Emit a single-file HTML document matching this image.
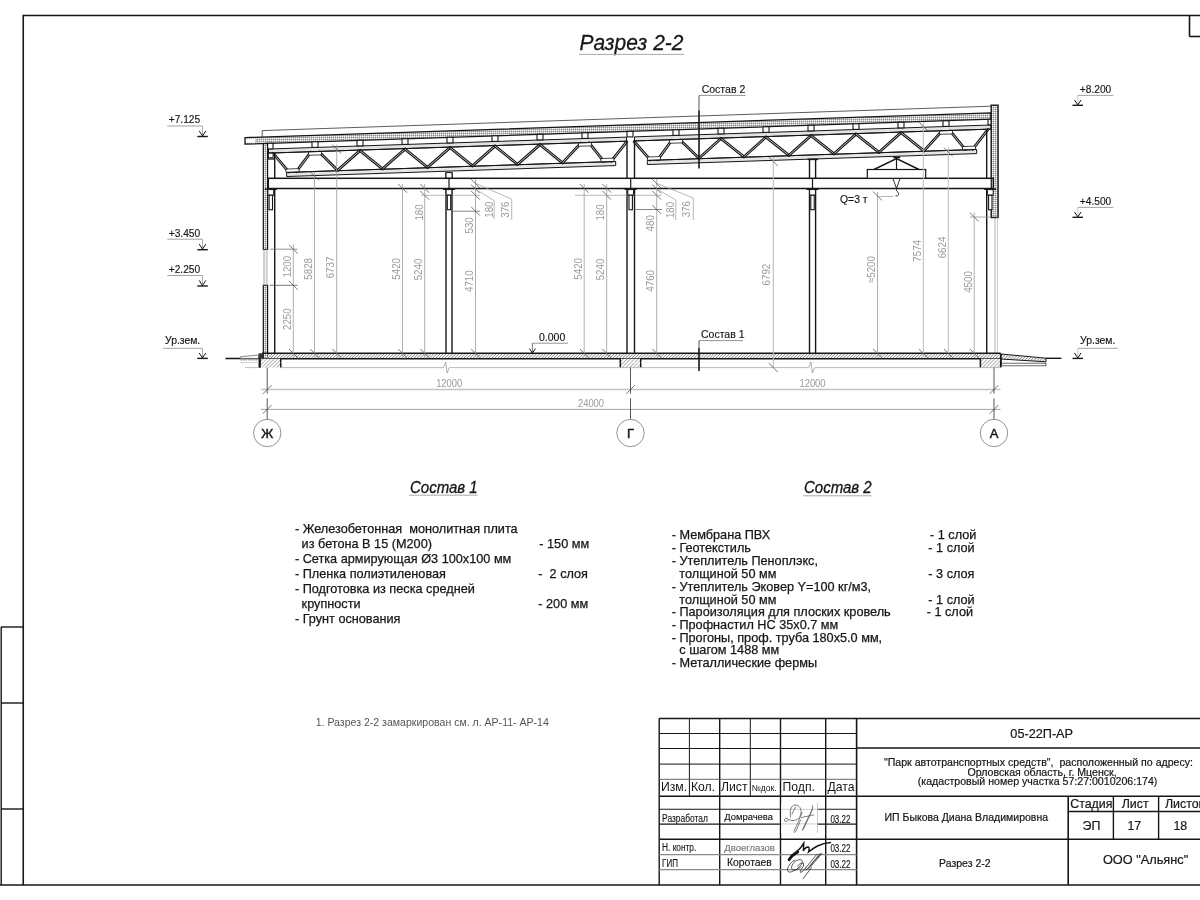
<!DOCTYPE html><html><head><meta charset="utf-8"><style>
html,body{margin:0;padding:0;background:#fff;width:1200px;height:900px;overflow:hidden}
svg{display:block;filter:grayscale(1)}
text{font-family:"Liberation Sans",sans-serif}
.dim{font-family:"Liberation Sans",sans-serif}
</style></head><body>
<svg width="1200" height="900" viewBox="0 0 1200 900">
<defs>
<pattern id="dots" width="2" height="2" patternUnits="userSpaceOnUse"><rect width="2" height="2" fill="#c4c4c4"/><rect width="1" height="1" fill="#fbfbfb"/><rect x="1" y="1" width="1" height="1" fill="#909090"/></pattern>
<pattern id="hatch" width="2.2" height="2.2" patternUnits="userSpaceOnUse" patternTransform="rotate(45)"><rect width="2.2" height="2.2" fill="#fff"/><rect width="0.8" height="2.2" fill="#8a8a8a"/></pattern>
<pattern id="hatch2" width="2.6" height="2.6" patternUnits="userSpaceOnUse" patternTransform="rotate(45)"><rect width="2.6" height="2.6" fill="#fff"/><rect width="0.7" height="2.6" fill="#999"/></pattern>
</defs>
<rect width="1200" height="900" fill="#fff"/>

<line x1="23.25" y1="15.50" x2="1200.00" y2="15.50" stroke="#161616" stroke-width="1.6" />
<line x1="23.25" y1="14.70" x2="23.25" y2="885.00" stroke="#161616" stroke-width="1.6" />
<line x1="0.00" y1="885.00" x2="1200.00" y2="885.00" stroke="#161616" stroke-width="1.6" />
<line x1="1.20" y1="627.00" x2="1.20" y2="885.00" stroke="#161616" stroke-width="1.4" />
<line x1="1.00" y1="627.00" x2="23.00" y2="627.00" stroke="#161616" stroke-width="1.4" />
<line x1="1.00" y1="703.00" x2="23.00" y2="703.00" stroke="#161616" stroke-width="1.4" />
<line x1="1.00" y1="809.00" x2="23.00" y2="809.00" stroke="#161616" stroke-width="1.4" />
<line x1="1189.50" y1="15.50" x2="1189.50" y2="36.50" stroke="#161616" stroke-width="1.6" />
<line x1="1189.50" y1="36.50" x2="1200.00" y2="36.50" stroke="#161616" stroke-width="1.6" />
<text transform="translate(579.6,49.7) scale(0.92,1)" font-size="22.8" fill="#161616" stroke="#161616" stroke-width="0.3" style="font-style:italic">Разрез 2-2</text>
<line x1="579.00" y1="54.40" x2="684.00" y2="54.40" stroke="#aaa" stroke-width="1.0" />
<text x="168.70" y="123.40" font-size="10.2" fill="#161616" text-anchor="start" stroke="#161616" stroke-width="0.15"  style="">+7.125</text>
<line x1="167.30" y1="126.00" x2="202.50" y2="126.00" stroke="#999" stroke-width="0.9" />
<line x1="202.50" y1="126.00" x2="202.50" y2="136.50" stroke="#999" stroke-width="0.8" />
<polyline points="199.20,130.90 202.50,136.00 205.80,130.90" fill="none" stroke="#161616" stroke-width="1.0" />
<line x1="197.30" y1="136.50" x2="207.80" y2="136.50" stroke="#161616" stroke-width="1.4" />
<text x="168.70" y="236.60" font-size="10.2" fill="#161616" text-anchor="start" stroke="#161616" stroke-width="0.15"  style="">+3.450</text>
<line x1="167.30" y1="239.20" x2="202.50" y2="239.20" stroke="#999" stroke-width="0.9" />
<line x1="202.50" y1="239.20" x2="202.50" y2="249.70" stroke="#999" stroke-width="0.8" />
<polyline points="199.20,244.10 202.50,249.20 205.80,244.10" fill="none" stroke="#161616" stroke-width="1.0" />
<line x1="197.30" y1="249.70" x2="207.80" y2="249.70" stroke="#161616" stroke-width="1.4" />
<text x="168.70" y="272.90" font-size="10.2" fill="#161616" text-anchor="start" stroke="#161616" stroke-width="0.15"  style="">+2.250</text>
<line x1="167.30" y1="275.50" x2="202.50" y2="275.50" stroke="#999" stroke-width="0.9" />
<line x1="202.50" y1="275.50" x2="202.50" y2="286.00" stroke="#999" stroke-width="0.8" />
<polyline points="199.20,280.40 202.50,285.50 205.80,280.40" fill="none" stroke="#161616" stroke-width="1.0" />
<line x1="197.30" y1="286.00" x2="207.80" y2="286.00" stroke="#161616" stroke-width="1.4" />
<text x="165.00" y="344.20" font-size="10.4" fill="#161616" text-anchor="start" stroke="#161616" stroke-width="0.15"  style="">Ур.зем.</text>
<line x1="163.00" y1="348.30" x2="202.50" y2="348.30" stroke="#999" stroke-width="0.9" />
<line x1="202.50" y1="348.30" x2="202.50" y2="358.40" stroke="#999" stroke-width="0.8" />
<polyline points="199.20,353.00 202.50,357.90 205.80,353.00" fill="none" stroke="#161616" stroke-width="1.0" />
<line x1="197.30" y1="358.40" x2="207.80" y2="358.40" stroke="#161616" stroke-width="1.4" />
<text x="1079.80" y="92.50" font-size="10.2" fill="#161616" text-anchor="start" stroke="#161616" stroke-width="0.15"  style="">+8.200</text>
<line x1="1077.80" y1="95.40" x2="1113.40" y2="95.40" stroke="#999" stroke-width="0.9" />
<line x1="1077.80" y1="95.40" x2="1077.80" y2="105.30" stroke="#bbb" stroke-width="0.8" />
<polyline points="1074.50,100.00 1077.80,104.90 1081.10,100.00" fill="none" stroke="#161616" stroke-width="1.0" />
<line x1="1072.50" y1="105.30" x2="1083.00" y2="105.30" stroke="#161616" stroke-width="1.4" />
<text x="1079.80" y="204.50" font-size="10.2" fill="#161616" text-anchor="start" stroke="#161616" stroke-width="0.15"  style="">+4.500</text>
<line x1="1077.80" y1="207.40" x2="1113.40" y2="207.40" stroke="#999" stroke-width="0.9" />
<line x1="1077.80" y1="207.40" x2="1077.80" y2="217.30" stroke="#bbb" stroke-width="0.8" />
<polyline points="1074.50,212.00 1077.80,216.90 1081.10,212.00" fill="none" stroke="#161616" stroke-width="1.0" />
<line x1="1072.50" y1="217.30" x2="1083.00" y2="217.30" stroke="#161616" stroke-width="1.4" />
<text x="1080.10" y="344.00" font-size="10.4" fill="#161616" text-anchor="start" stroke="#161616" stroke-width="0.15"  style="">Ур.зем.</text>
<line x1="1077.80" y1="348.30" x2="1117.80" y2="348.30" stroke="#999" stroke-width="0.9" />
<line x1="1077.80" y1="348.30" x2="1077.80" y2="358.40" stroke="#bbb" stroke-width="0.8" />
<polyline points="1074.50,353.00 1077.80,357.90 1081.10,353.00" fill="none" stroke="#161616" stroke-width="1.0" />
<line x1="1072.50" y1="358.40" x2="1083.00" y2="358.40" stroke="#161616" stroke-width="1.4" />
<text x="701.70" y="92.60" font-size="10.5" fill="#161616" text-anchor="start" stroke="#161616" stroke-width="0.15"  style="">Состав 2</text>
<line x1="699.00" y1="95.40" x2="745.70" y2="95.40" stroke="#888" stroke-width="0.9" />
<line x1="699.00" y1="95.40" x2="699.00" y2="111.00" stroke="#444" stroke-width="0.9" />
<text x="701.00" y="338.00" font-size="10.5" fill="#161616" text-anchor="start" stroke="#161616" stroke-width="0.15"  style="">Состав 1</text>
<line x1="699.00" y1="340.60" x2="743.00" y2="340.60" stroke="#888" stroke-width="0.9" />
<line x1="699.00" y1="340.60" x2="699.00" y2="348.00" stroke="#444" stroke-width="0.9" />
<text x="539.00" y="341.00" font-size="10.5" fill="#161616" text-anchor="start" stroke="#161616" stroke-width="0.15"  style="">0.000</text>
<line x1="532.40" y1="343.20" x2="568.00" y2="343.20" stroke="#888" stroke-width="0.9" />
<line x1="532.40" y1="343.20" x2="532.40" y2="353.00" stroke="#555" stroke-width="0.8" />
<polyline points="529.40,348.50 532.40,353.00 535.40,348.50" fill="none" stroke="#161616" stroke-width="1.0" />
<text x="840.00" y="202.50" font-size="10.4" fill="#161616" text-anchor="start" stroke="#161616" stroke-width="0.15"  style="">Q=3 т</text>
<text transform="translate(410,492.7) scale(0.95,1)" font-size="15.8" fill="#161616" stroke="#161616" stroke-width="0.3" style="font-style:italic">Состав 1</text>
<line x1="409.00" y1="495.20" x2="477.50" y2="495.20" stroke="#aaa" stroke-width="1.0" />
<text transform="translate(804,492.7) scale(0.95,1)" font-size="15.8" fill="#161616" stroke="#161616" stroke-width="0.3" style="font-style:italic">Состав 2</text>
<line x1="803.00" y1="495.80" x2="871.50" y2="495.80" stroke="#aaa" stroke-width="1.0" />
<text x="294.90" y="533.00" font-size="12.7" fill="#161616" text-anchor="start" stroke="#161616" stroke-width="0.25" xml:space="preserve" style="">- Железобетонная  монолитная плита</text>
<text x="301.60" y="547.50" font-size="12.7" fill="#161616" text-anchor="start" stroke="#161616" stroke-width="0.25" xml:space="preserve" style="">из бетона В 15 (М200)</text>
<text x="539.30" y="547.50" font-size="12.7" fill="#161616" text-anchor="start" stroke="#161616" stroke-width="0.25" xml:space="preserve" style="">- 150 мм</text>
<text x="294.90" y="562.70" font-size="12.7" fill="#161616" text-anchor="start" stroke="#161616" stroke-width="0.25" xml:space="preserve" style="">- Сетка армирующая Ø3 100х100 мм</text>
<text x="294.90" y="577.70" font-size="12.7" fill="#161616" text-anchor="start" stroke="#161616" stroke-width="0.25" xml:space="preserve" style="">- Пленка полиэтиленовая</text>
<text x="538.30" y="577.70" font-size="12.7" fill="#161616" text-anchor="start" stroke="#161616" stroke-width="0.25" xml:space="preserve" style="">-  2 слоя</text>
<text x="294.90" y="592.70" font-size="12.7" fill="#161616" text-anchor="start" stroke="#161616" stroke-width="0.25" xml:space="preserve" style="">- Подготовка из песка средней</text>
<text x="301.60" y="607.70" font-size="12.7" fill="#161616" text-anchor="start" stroke="#161616" stroke-width="0.25" xml:space="preserve" style="">крупности</text>
<text x="538.30" y="607.70" font-size="12.7" fill="#161616" text-anchor="start" stroke="#161616" stroke-width="0.25" xml:space="preserve" style="">- 200 мм</text>
<text x="294.90" y="622.70" font-size="12.7" fill="#161616" text-anchor="start" stroke="#161616" stroke-width="0.25" xml:space="preserve" style="">- Грунт основания</text>
<text x="671.70" y="539.40" font-size="12.7" fill="#161616" text-anchor="start" stroke="#161616" stroke-width="0.25" xml:space="preserve" style="">- Мембрана ПВХ</text>
<text x="930.00" y="539.40" font-size="12.7" fill="#161616" text-anchor="start" stroke="#161616" stroke-width="0.25" xml:space="preserve" style="">- 1 слой</text>
<text x="671.70" y="552.40" font-size="12.7" fill="#161616" text-anchor="start" stroke="#161616" stroke-width="0.25" xml:space="preserve" style="">- Геотекстиль</text>
<text x="928.30" y="552.40" font-size="12.7" fill="#161616" text-anchor="start" stroke="#161616" stroke-width="0.25" xml:space="preserve" style="">- 1 слой</text>
<text x="671.70" y="565.40" font-size="12.7" fill="#161616" text-anchor="start" stroke="#161616" stroke-width="0.25" xml:space="preserve" style="">- Утеплитель Пеноплэкс,</text>
<text x="679.30" y="578.00" font-size="12.7" fill="#161616" text-anchor="start" stroke="#161616" stroke-width="0.25" xml:space="preserve" style="">толщиной 50 мм</text>
<text x="928.30" y="578.00" font-size="12.7" fill="#161616" text-anchor="start" stroke="#161616" stroke-width="0.25" xml:space="preserve" style="">- 3 слоя</text>
<text x="671.70" y="590.90" font-size="12.7" fill="#161616" text-anchor="start" stroke="#161616" stroke-width="0.25" xml:space="preserve" style="">- Утеплитель Эковер Y=100 кг/м3,</text>
<text x="679.30" y="603.50" font-size="12.7" fill="#161616" text-anchor="start" stroke="#161616" stroke-width="0.25" xml:space="preserve" style="">толщиной 50 мм</text>
<text x="928.30" y="603.50" font-size="12.7" fill="#161616" text-anchor="start" stroke="#161616" stroke-width="0.25" xml:space="preserve" style="">- 1 слой</text>
<text x="671.70" y="616.30" font-size="12.7" fill="#161616" text-anchor="start" stroke="#161616" stroke-width="0.25" xml:space="preserve" style="">- Пароизоляция для плоских кровель</text>
<text x="926.70" y="616.30" font-size="12.7" fill="#161616" text-anchor="start" stroke="#161616" stroke-width="0.25" xml:space="preserve" style="">- 1 слой</text>
<text x="671.70" y="629.30" font-size="12.7" fill="#161616" text-anchor="start" stroke="#161616" stroke-width="0.25" xml:space="preserve" style="">- Профнастил НС 35х0.7 мм</text>
<text x="671.70" y="641.90" font-size="12.7" fill="#161616" text-anchor="start" stroke="#161616" stroke-width="0.25" xml:space="preserve" style="">- Прогоны, проф. труба 180х5.0 мм,</text>
<text x="679.30" y="654.40" font-size="12.7" fill="#161616" text-anchor="start" stroke="#161616" stroke-width="0.25" xml:space="preserve" style="">с шагом 1488 мм</text>
<text x="671.70" y="667.10" font-size="12.7" fill="#161616" text-anchor="start" stroke="#161616" stroke-width="0.25" xml:space="preserve" style="">- Металлические фермы</text>
<text x="315.70" y="725.80" font-size="10.55" fill="#555" text-anchor="start"  style="">1. Разрез 2-2 замаркирован см. л. АР-11- АР-14</text>
<line x1="659.20" y1="718.30" x2="659.20" y2="885.00" stroke="#161616" stroke-width="1.4" />
<line x1="719.70" y1="718.30" x2="719.70" y2="885.00" stroke="#161616" stroke-width="1.4" />
<line x1="780.50" y1="718.30" x2="780.50" y2="885.00" stroke="#161616" stroke-width="1.4" />
<line x1="825.70" y1="718.30" x2="825.70" y2="885.00" stroke="#161616" stroke-width="1.4" />
<line x1="689.40" y1="718.30" x2="689.40" y2="796.40" stroke="#161616" stroke-width="1.0" />
<line x1="750.30" y1="718.30" x2="750.30" y2="796.40" stroke="#161616" stroke-width="1.0" />
<line x1="856.60" y1="718.30" x2="856.60" y2="885.00" stroke="#161616" stroke-width="1.6" />
<line x1="659.20" y1="718.50" x2="1200.00" y2="718.50" stroke="#161616" stroke-width="1.6" />
<line x1="659.20" y1="733.50" x2="856.60" y2="733.50" stroke="#161616" stroke-width="1.0" />
<line x1="659.20" y1="748.50" x2="856.60" y2="748.50" stroke="#161616" stroke-width="1.0" />
<line x1="659.20" y1="764.10" x2="856.60" y2="764.10" stroke="#161616" stroke-width="1.0" />
<line x1="659.20" y1="779.30" x2="856.60" y2="779.30" stroke="#555" stroke-width="0.9" />
<line x1="659.20" y1="796.30" x2="1200.00" y2="796.30" stroke="#161616" stroke-width="1.6" />
<line x1="659.20" y1="809.30" x2="856.60" y2="809.30" stroke="#161616" stroke-width="1.1" />
<line x1="659.20" y1="824.10" x2="856.60" y2="824.10" stroke="#161616" stroke-width="1.1" />
<line x1="659.20" y1="854.60" x2="856.60" y2="854.60" stroke="#8a8a8a" stroke-width="1.4" />
<line x1="659.20" y1="869.60" x2="856.60" y2="869.60" stroke="#8a8a8a" stroke-width="1.4" />
<line x1="659.20" y1="839.30" x2="1200.00" y2="839.30" stroke="#161616" stroke-width="1.6" />
<line x1="856.60" y1="748.00" x2="1200.00" y2="748.00" stroke="#161616" stroke-width="1.6" />
<line x1="1068.20" y1="796.30" x2="1068.20" y2="885.00" stroke="#161616" stroke-width="1.6" />
<line x1="1113.40" y1="796.30" x2="1113.40" y2="839.30" stroke="#161616" stroke-width="1.4" />
<line x1="1158.60" y1="796.30" x2="1158.60" y2="839.30" stroke="#161616" stroke-width="1.4" />
<line x1="1068.20" y1="811.50" x2="1200.00" y2="811.50" stroke="#161616" stroke-width="1.4" />
<text x="661.00" y="790.70" font-size="12.2" fill="#161616" text-anchor="start"  style="">Изм.</text>
<text x="691.00" y="790.70" font-size="12.2" fill="#161616" text-anchor="start"  style="">Кол.</text>
<text x="721.00" y="790.70" font-size="12.2" fill="#161616" text-anchor="start"  style="">Лист</text>
<text x="751.50" y="790.70" font-size="8.6" fill="#161616" text-anchor="start"  style="">№док.</text>
<text x="782.50" y="790.70" font-size="12.2" fill="#161616" text-anchor="start"  style="">Подп.</text>
<text x="827.50" y="790.70" font-size="12.2" fill="#161616" text-anchor="start"  style="">Дата</text>
<text transform="translate(662.10,821.80) scale(0.765,1)" font-size="11" fill="#161616" stroke="#161616" stroke-width="0.15">Разработал</text>
<text transform="translate(724.30,820.30) scale(0.99,1)" font-size="9.5" fill="#161616" stroke="#161616" stroke-width="0.15">Домрачева</text>
<text transform="translate(830.40,822.70) scale(0.8,1)" font-size="10.0" fill="#161616" stroke="#161616" stroke-width="0.15">03.22</text>
<text transform="translate(662.10,850.80) scale(0.753,1)" font-size="11" fill="#161616" stroke="#161616" stroke-width="0.15">Н. контр.</text>
<text transform="translate(724.30,850.50) scale(1.0,1)" font-size="9.5" fill="#777" stroke="#777" stroke-width="0.15">Двоеглазов</text>
<text transform="translate(830.40,852.40) scale(0.8,1)" font-size="10.0" fill="#161616" stroke="#161616" stroke-width="0.15">03.22</text>
<text transform="translate(662.10,867.10) scale(0.725,1)" font-size="11" fill="#161616" stroke="#161616" stroke-width="0.15">ГИП</text>
<text transform="translate(727.00,865.60) scale(1.0,1)" font-size="10.4" fill="#161616" stroke="#161616" stroke-width="0.15">Коротаев</text>
<text transform="translate(830.40,868.00) scale(0.8,1)" font-size="10.0" fill="#161616" stroke="#161616" stroke-width="0.15">03.22</text>
<rect x="781.30" y="803.00" width="35.80" height="30.00" fill="#fff" stroke="none" stroke-width="0" />
<line x1="781.30" y1="809.30" x2="817.20" y2="809.30" stroke="#c8c8c8" stroke-width="0.9" />
<line x1="781.30" y1="823.90" x2="817.20" y2="823.90" stroke="#c8c8c8" stroke-width="0.9" />
<line x1="817.50" y1="803.00" x2="817.50" y2="833.00" stroke="#bbb" stroke-width="0.8" />
<g fill="none" stroke="#5a5a5a" stroke-width="0.8" stroke-linecap="round"><path d="M790.5 817 C789.5 811 791 805 795 805 C799.5 805 801.5 809 801 813 C800.5 818 797 820.5 793 820.5 C790 820.5 788 819.5 787 818.5 C785.5 817.5 784 819 784.5 820.8 C785 822 787 821.5 788 820.5"/><path d="M795.5 807 L792 814"/><path d="M802 812.5 C800 818 797 825 794.5 830 C793.5 832.5 794.5 833.5 796 831 C797.5 828 799 824 800.5 820"/><path d="M812.5 805.5 C813 807 812.5 809.5 811 812 C808 818 805 824 802.5 829.5 C801.5 831 802.5 830.5 803.5 829 C806 824 809 817 812.5 809"/><path d="M801.5 817.5 L813.5 815"/></g>
<path d="M788.3 859.5 q3 -5 8 -8 q3 -2 4.5 -4 l3 -4.5 l-0.5 8 q2 -4 5 -4 q1.5 0.5 0.2 5 q5 -4 9 -6 q6 -3 13 -3.5" fill="none" stroke="#111" stroke-width="1.4" stroke-linecap="round"/>
<path d="M789 860 q3 -4.5 9 -8" fill="none" stroke="#111" stroke-width="2.4" stroke-linecap="round"/>
<g fill="none" stroke="#333" stroke-width="0.8" stroke-linecap="round"><path d="M795 860 q-6 3 -7.5 9 q-0.5 3.5 3.5 3 q6 -1.5 10 -7 q3 -5 -1 -5.5 q-4 0 -7 4 q-3 5 0 6.5 q4 1 8 -3"/><path d="M797.5 866 q3 -4 6 -3 q1 3 -2 6 q-2 2.5 -1 3.5 q3 -1 6 -5"/><path d="M804 870 l13 -16"/><path d="M806 870.5 l14 -17"/><path d="M808.5 869 l13.5 -15.5"/><path d="M810 866 l11 -12.5"/><path d="M811.5 867.5 l-8.3 11.2"/></g>
<text x="1041.70" y="738.30" font-size="12.7" fill="#161616" text-anchor="middle" stroke="#161616" stroke-width="0.2"  style="">05-22П-АР</text>
<text x="1038.50" y="766.00" font-size="10.6" fill="#161616" text-anchor="middle" stroke="#161616" stroke-width="0.2" xml:space="preserve" style="">"Парк автотранспортных средств",  расположенный по адресу:</text>
<text x="1042.10" y="775.60" font-size="10.6" fill="#161616" text-anchor="middle" stroke="#161616" stroke-width="0.2"  style="">Орловская область, г. Мценск,</text>
<text x="1037.60" y="785.20" font-size="10.6" fill="#161616" text-anchor="middle" stroke="#161616" stroke-width="0.2"  style="">(кадастровый номер участка 57:27:0010206:174)</text>
<text x="966.30" y="821.40" font-size="10.5" fill="#161616" text-anchor="middle" stroke="#161616" stroke-width="0.2"  style="">ИП Быкова Диана Владимировна</text>
<text x="1070.20" y="808.30" font-size="12.4" fill="#161616" text-anchor="start" stroke="#161616" stroke-width="0.2"  style="">Стадия</text>
<text x="1121.70" y="808.30" font-size="12.4" fill="#161616" text-anchor="start" stroke="#161616" stroke-width="0.2"  style="">Лист</text>
<text x="1164.90" y="808.30" font-size="12.4" fill="#161616" text-anchor="start" stroke="#161616" stroke-width="0.2"  style="">Листов</text>
<text x="1091.40" y="829.50" font-size="12.4" fill="#161616" text-anchor="middle" stroke="#161616" stroke-width="0.2"  style="">ЭП</text>
<text x="1134.30" y="829.50" font-size="12.4" fill="#161616" text-anchor="middle" stroke="#161616" stroke-width="0.2"  style="">17</text>
<text x="1180.30" y="829.50" font-size="12.4" fill="#161616" text-anchor="middle" stroke="#161616" stroke-width="0.2"  style="">18</text>
<text x="964.80" y="867.40" font-size="10.5" fill="#161616" text-anchor="middle" stroke="#161616" stroke-width="0.2"  style="">Разрез 2-2</text>
<text x="1145.60" y="863.70" font-size="12.75" fill="#161616" text-anchor="middle" stroke="#161616" stroke-width="0.2"  style="">ООО "Альянс"</text>
<line x1="262.20" y1="130.60" x2="991.00" y2="106.20" stroke="#333" stroke-width="0.8" />
<line x1="262.20" y1="130.60" x2="262.20" y2="137.03" stroke="#333" stroke-width="0.8" />
<polygon points="245.00,137.60 991.00,112.80 991.00,119.20 245.00,144.20" fill="url(#dots)" stroke="#161616" stroke-width="1.3" />
<polygon points="246.20,139.36 256.00,139.03 256.00,142.03 246.20,142.36" fill="#fff" stroke="#fff" stroke-width="0.5" />
<line x1="256.00" y1="138.83" x2="256.00" y2="142.23" stroke="#666" stroke-width="0.6" />
<polygon points="268.50,149.02 626.50,137.12 626.50,141.22 268.50,153.12" fill="#e2e2e2" stroke="#161616" stroke-width="1.0" />
<polygon points="286.70,172.41 615.70,161.48 615.70,165.58 286.70,176.51" fill="#e6e6e6" stroke="#161616" stroke-width="1.0" />
<line x1="273.20" y1="153.46" x2="288.70" y2="171.95" stroke="#161616" stroke-width="2.8" stroke-linecap="round"/>
<line x1="273.20" y1="153.46" x2="288.70" y2="171.95" stroke="#fff" stroke-width="0.7" stroke-linecap="round"/>
<line x1="310.80" y1="152.21" x2="296.30" y2="171.69" stroke="#161616" stroke-width="2.8" stroke-linecap="round"/>
<line x1="310.80" y1="152.21" x2="296.30" y2="171.69" stroke="#fff" stroke-width="0.7" stroke-linecap="round"/>
<line x1="319.20" y1="151.93" x2="337.50" y2="170.33" stroke="#161616" stroke-width="2.8" stroke-linecap="round"/>
<line x1="319.20" y1="151.93" x2="337.50" y2="170.33" stroke="#fff" stroke-width="0.7" stroke-linecap="round"/>
<line x1="360.00" y1="150.58" x2="337.50" y2="170.33" stroke="#161616" stroke-width="2.8" stroke-linecap="round"/>
<line x1="360.00" y1="150.58" x2="337.50" y2="170.33" stroke="#fff" stroke-width="0.7" stroke-linecap="round"/>
<line x1="360.00" y1="150.58" x2="382.50" y2="168.83" stroke="#161616" stroke-width="2.8" stroke-linecap="round"/>
<line x1="360.00" y1="150.58" x2="382.50" y2="168.83" stroke="#fff" stroke-width="0.7" stroke-linecap="round"/>
<line x1="405.00" y1="149.08" x2="382.50" y2="168.83" stroke="#161616" stroke-width="2.8" stroke-linecap="round"/>
<line x1="405.00" y1="149.08" x2="382.50" y2="168.83" stroke="#fff" stroke-width="0.7" stroke-linecap="round"/>
<line x1="405.00" y1="149.08" x2="427.50" y2="167.33" stroke="#161616" stroke-width="2.8" stroke-linecap="round"/>
<line x1="405.00" y1="149.08" x2="427.50" y2="167.33" stroke="#fff" stroke-width="0.7" stroke-linecap="round"/>
<line x1="450.00" y1="147.59" x2="427.50" y2="167.33" stroke="#161616" stroke-width="2.8" stroke-linecap="round"/>
<line x1="450.00" y1="147.59" x2="427.50" y2="167.33" stroke="#fff" stroke-width="0.7" stroke-linecap="round"/>
<line x1="450.00" y1="147.59" x2="472.50" y2="165.84" stroke="#161616" stroke-width="2.8" stroke-linecap="round"/>
<line x1="450.00" y1="147.59" x2="472.50" y2="165.84" stroke="#fff" stroke-width="0.7" stroke-linecap="round"/>
<line x1="495.00" y1="146.09" x2="472.50" y2="165.84" stroke="#161616" stroke-width="2.8" stroke-linecap="round"/>
<line x1="495.00" y1="146.09" x2="472.50" y2="165.84" stroke="#fff" stroke-width="0.7" stroke-linecap="round"/>
<line x1="495.00" y1="146.09" x2="517.50" y2="164.34" stroke="#161616" stroke-width="2.8" stroke-linecap="round"/>
<line x1="495.00" y1="146.09" x2="517.50" y2="164.34" stroke="#fff" stroke-width="0.7" stroke-linecap="round"/>
<line x1="540.00" y1="144.59" x2="517.50" y2="164.34" stroke="#161616" stroke-width="2.8" stroke-linecap="round"/>
<line x1="540.00" y1="144.59" x2="517.50" y2="164.34" stroke="#fff" stroke-width="0.7" stroke-linecap="round"/>
<line x1="540.00" y1="144.59" x2="562.50" y2="162.85" stroke="#161616" stroke-width="2.8" stroke-linecap="round"/>
<line x1="540.00" y1="144.59" x2="562.50" y2="162.85" stroke="#fff" stroke-width="0.7" stroke-linecap="round"/>
<line x1="580.80" y1="143.24" x2="562.50" y2="162.85" stroke="#161616" stroke-width="2.8" stroke-linecap="round"/>
<line x1="580.80" y1="143.24" x2="562.50" y2="162.85" stroke="#fff" stroke-width="0.7" stroke-linecap="round"/>
<line x1="589.20" y1="142.96" x2="603.70" y2="161.48" stroke="#161616" stroke-width="2.8" stroke-linecap="round"/>
<line x1="589.20" y1="142.96" x2="603.70" y2="161.48" stroke="#fff" stroke-width="0.7" stroke-linecap="round"/>
<line x1="626.80" y1="141.71" x2="611.30" y2="161.22" stroke="#161616" stroke-width="2.8" stroke-linecap="round"/>
<line x1="626.80" y1="141.71" x2="611.30" y2="161.22" stroke="#fff" stroke-width="0.7" stroke-linecap="round"/>
<polygon points="286.00,169.04 299.00,168.61 299.00,172.01 286.00,172.44" fill="#fff" stroke="#161616" stroke-width="0.8" />
<polygon points="601.00,158.57 614.00,158.13 614.00,161.53 601.00,161.97" fill="#fff" stroke="#161616" stroke-width="0.8" />
<polygon points="308.50,151.89 321.50,151.46 321.50,154.86 308.50,155.29" fill="#fff" stroke="#161616" stroke-width="0.8" />
<polygon points="578.50,142.91 591.50,142.48 591.50,145.88 578.50,146.31" fill="#fff" stroke="#161616" stroke-width="0.8" />
<line x1="268.50" y1="153.12" x2="626.50" y2="141.22" stroke="#161616" stroke-width="1.0" />
<line x1="286.70" y1="172.41" x2="615.70" y2="161.48" stroke="#161616" stroke-width="1.0" />
<polygon points="634.50,136.85 991.00,125.00 991.00,129.10 634.50,140.95" fill="#e2e2e2" stroke="#161616" stroke-width="1.0" />
<polygon points="647.30,160.43 976.70,149.48 976.70,153.58 647.30,164.53" fill="#e6e6e6" stroke="#161616" stroke-width="1.0" />
<line x1="634.20" y1="141.46" x2="650.20" y2="159.93" stroke="#161616" stroke-width="2.8" stroke-linecap="round"/>
<line x1="634.20" y1="141.46" x2="650.20" y2="159.93" stroke="#fff" stroke-width="0.7" stroke-linecap="round"/>
<line x1="671.80" y1="140.21" x2="657.80" y2="159.68" stroke="#161616" stroke-width="2.8" stroke-linecap="round"/>
<line x1="671.80" y1="140.21" x2="657.80" y2="159.68" stroke="#fff" stroke-width="0.7" stroke-linecap="round"/>
<line x1="680.20" y1="139.93" x2="699.00" y2="158.31" stroke="#161616" stroke-width="2.8" stroke-linecap="round"/>
<line x1="680.20" y1="139.93" x2="699.00" y2="158.31" stroke="#fff" stroke-width="0.7" stroke-linecap="round"/>
<line x1="721.00" y1="138.58" x2="699.00" y2="158.31" stroke="#161616" stroke-width="2.8" stroke-linecap="round"/>
<line x1="721.00" y1="138.58" x2="699.00" y2="158.31" stroke="#fff" stroke-width="0.7" stroke-linecap="round"/>
<line x1="721.00" y1="138.58" x2="744.00" y2="156.81" stroke="#161616" stroke-width="2.8" stroke-linecap="round"/>
<line x1="721.00" y1="138.58" x2="744.00" y2="156.81" stroke="#fff" stroke-width="0.7" stroke-linecap="round"/>
<line x1="766.00" y1="137.08" x2="744.00" y2="156.81" stroke="#161616" stroke-width="2.8" stroke-linecap="round"/>
<line x1="766.00" y1="137.08" x2="744.00" y2="156.81" stroke="#fff" stroke-width="0.7" stroke-linecap="round"/>
<line x1="766.00" y1="137.08" x2="789.00" y2="155.32" stroke="#161616" stroke-width="2.8" stroke-linecap="round"/>
<line x1="766.00" y1="137.08" x2="789.00" y2="155.32" stroke="#fff" stroke-width="0.7" stroke-linecap="round"/>
<line x1="811.00" y1="135.59" x2="789.00" y2="155.32" stroke="#161616" stroke-width="2.8" stroke-linecap="round"/>
<line x1="811.00" y1="135.59" x2="789.00" y2="155.32" stroke="#fff" stroke-width="0.7" stroke-linecap="round"/>
<line x1="811.00" y1="135.59" x2="834.00" y2="153.82" stroke="#161616" stroke-width="2.8" stroke-linecap="round"/>
<line x1="811.00" y1="135.59" x2="834.00" y2="153.82" stroke="#fff" stroke-width="0.7" stroke-linecap="round"/>
<line x1="856.00" y1="134.09" x2="834.00" y2="153.82" stroke="#161616" stroke-width="2.8" stroke-linecap="round"/>
<line x1="856.00" y1="134.09" x2="834.00" y2="153.82" stroke="#fff" stroke-width="0.7" stroke-linecap="round"/>
<line x1="856.00" y1="134.09" x2="879.00" y2="152.33" stroke="#161616" stroke-width="2.8" stroke-linecap="round"/>
<line x1="856.00" y1="134.09" x2="879.00" y2="152.33" stroke="#fff" stroke-width="0.7" stroke-linecap="round"/>
<line x1="901.00" y1="132.59" x2="879.00" y2="152.33" stroke="#161616" stroke-width="2.8" stroke-linecap="round"/>
<line x1="901.00" y1="132.59" x2="879.00" y2="152.33" stroke="#fff" stroke-width="0.7" stroke-linecap="round"/>
<line x1="901.00" y1="132.59" x2="924.00" y2="150.83" stroke="#161616" stroke-width="2.8" stroke-linecap="round"/>
<line x1="901.00" y1="132.59" x2="924.00" y2="150.83" stroke="#fff" stroke-width="0.7" stroke-linecap="round"/>
<line x1="941.80" y1="131.24" x2="924.00" y2="150.83" stroke="#161616" stroke-width="2.8" stroke-linecap="round"/>
<line x1="941.80" y1="131.24" x2="924.00" y2="150.83" stroke="#fff" stroke-width="0.7" stroke-linecap="round"/>
<line x1="950.20" y1="130.96" x2="965.20" y2="149.46" stroke="#161616" stroke-width="2.8" stroke-linecap="round"/>
<line x1="950.20" y1="130.96" x2="965.20" y2="149.46" stroke="#fff" stroke-width="0.7" stroke-linecap="round"/>
<line x1="987.80" y1="129.71" x2="972.80" y2="149.21" stroke="#161616" stroke-width="2.8" stroke-linecap="round"/>
<line x1="987.80" y1="129.71" x2="972.80" y2="149.21" stroke="#fff" stroke-width="0.7" stroke-linecap="round"/>
<polygon points="647.50,157.02 660.50,156.59 660.50,159.99 647.50,160.42" fill="#fff" stroke="#161616" stroke-width="0.8" />
<polygon points="962.50,146.55 975.50,146.12 975.50,149.52 962.50,149.95" fill="#fff" stroke="#161616" stroke-width="0.8" />
<polygon points="669.50,139.89 682.50,139.46 682.50,142.86 669.50,143.29" fill="#fff" stroke="#161616" stroke-width="0.8" />
<polygon points="939.50,130.91 952.50,130.48 952.50,133.88 939.50,134.31" fill="#fff" stroke="#161616" stroke-width="0.8" />
<line x1="634.50" y1="140.95" x2="991.00" y2="129.10" stroke="#161616" stroke-width="1.0" />
<line x1="647.30" y1="160.43" x2="976.70" y2="149.48" stroke="#161616" stroke-width="1.0" />
<rect x="267.00" y="143.27" width="6.00" height="5.60" fill="#fff" stroke="#161616" stroke-width="1.1" />
<rect x="312.00" y="141.77" width="6.00" height="5.60" fill="#fff" stroke="#161616" stroke-width="1.1" />
<rect x="357.00" y="140.28" width="6.00" height="5.60" fill="#fff" stroke="#161616" stroke-width="1.1" />
<rect x="402.00" y="138.78" width="6.00" height="5.60" fill="#fff" stroke="#161616" stroke-width="1.1" />
<rect x="447.00" y="137.29" width="6.00" height="5.60" fill="#fff" stroke="#161616" stroke-width="1.1" />
<rect x="492.00" y="135.79" width="6.00" height="5.60" fill="#fff" stroke="#161616" stroke-width="1.1" />
<rect x="537.00" y="134.29" width="6.00" height="5.60" fill="#fff" stroke="#161616" stroke-width="1.1" />
<rect x="582.00" y="132.80" width="6.00" height="5.60" fill="#fff" stroke="#161616" stroke-width="1.1" />
<rect x="627.00" y="131.30" width="6.00" height="5.60" fill="#fff" stroke="#161616" stroke-width="1.1" />
<rect x="673.00" y="129.77" width="6.00" height="5.60" fill="#fff" stroke="#161616" stroke-width="1.1" />
<rect x="718.00" y="128.28" width="6.00" height="5.60" fill="#fff" stroke="#161616" stroke-width="1.1" />
<rect x="763.00" y="126.78" width="6.00" height="5.60" fill="#fff" stroke="#161616" stroke-width="1.1" />
<rect x="808.00" y="125.29" width="6.00" height="5.60" fill="#fff" stroke="#161616" stroke-width="1.1" />
<rect x="853.00" y="123.79" width="6.00" height="5.60" fill="#fff" stroke="#161616" stroke-width="1.1" />
<rect x="898.00" y="122.29" width="6.00" height="5.60" fill="#fff" stroke="#161616" stroke-width="1.1" />
<rect x="943.00" y="120.80" width="6.00" height="5.60" fill="#fff" stroke="#161616" stroke-width="1.1" />
<rect x="988.00" y="119.30" width="6.00" height="5.60" fill="#fff" stroke="#161616" stroke-width="1.1" />
<rect x="263.30" y="143.59" width="4.30" height="105.81" fill="url(#dots)" stroke="#161616" stroke-width="1.2" />
<rect x="263.30" y="285.30" width="4.30" height="73.40" fill="url(#dots)" stroke="#161616" stroke-width="1.2" />
<line x1="263.60" y1="249.40" x2="263.60" y2="285.30" stroke="#aaa" stroke-width="0.6" />
<line x1="264.60" y1="249.40" x2="264.60" y2="285.30" stroke="#aaa" stroke-width="0.6" />
<line x1="266.20" y1="249.40" x2="266.20" y2="285.30" stroke="#aaa" stroke-width="0.6" />
<line x1="267.30" y1="249.40" x2="267.30" y2="285.30" stroke="#aaa" stroke-width="0.6" />
<rect x="991.20" y="105.20" width="6.90" height="112.30" fill="url(#dots)" stroke="#161616" stroke-width="1.4" />
<line x1="995.00" y1="217.50" x2="995.00" y2="358.70" stroke="#999" stroke-width="0.8" />
<line x1="997.50" y1="217.50" x2="997.50" y2="358.70" stroke="#bbb" stroke-width="0.8" />
<line x1="274.70" y1="152.91" x2="274.70" y2="353.30" stroke="#161616" stroke-width="1.4" />
<line x1="267.90" y1="159.00" x2="274.70" y2="159.00" stroke="#161616" stroke-width="1.3" />
<rect x="268.30" y="153.20" width="4.80" height="4.60" fill="#fff" stroke="#161616" stroke-width="1.0" />
<line x1="446.00" y1="172.60" x2="446.00" y2="353.30" stroke="#161616" stroke-width="1.4" />
<line x1="452.00" y1="172.60" x2="452.00" y2="353.30" stroke="#161616" stroke-width="1.4" />
<line x1="627.00" y1="141.20" x2="627.00" y2="353.30" stroke="#161616" stroke-width="1.4" />
<line x1="634.50" y1="141.20" x2="634.50" y2="353.30" stroke="#161616" stroke-width="1.4" />
<line x1="809.50" y1="159.05" x2="809.50" y2="353.30" stroke="#161616" stroke-width="1.4" />
<line x1="815.60" y1="159.05" x2="815.60" y2="353.30" stroke="#161616" stroke-width="1.4" />
<line x1="986.70" y1="129.25" x2="986.70" y2="353.30" stroke="#161616" stroke-width="1.4" />
<rect x="446.00" y="172.60" width="6.00" height="5.70" fill="#fff" stroke="#161616" stroke-width="1.0" />
<line x1="807.50" y1="159.35" x2="818.00" y2="159.35" stroke="#161616" stroke-width="1.6" />
<rect x="268.30" y="178.30" width="725.00" height="10.20" fill="#fff" stroke="#161616" stroke-width="1.5" />
<line x1="449.00" y1="178.30" x2="449.00" y2="188.50" stroke="#161616" stroke-width="1.2" />
<line x1="630.70" y1="178.30" x2="630.70" y2="188.50" stroke="#161616" stroke-width="1.2" />
<line x1="812.50" y1="178.30" x2="812.50" y2="188.50" stroke="#161616" stroke-width="1.2" />
<line x1="991.30" y1="178.30" x2="991.30" y2="188.50" stroke="#161616" stroke-width="1.2" />
<line x1="264.80" y1="189.20" x2="276.80" y2="189.20" stroke="#161616" stroke-width="1.6" />
<rect x="267.90" y="189.60" width="5.80" height="5.60" fill="#fff" stroke="#161616" stroke-width="1.0" />
<rect x="269.10" y="195.20" width="3.40" height="14.50" fill="#fff" stroke="#161616" stroke-width="1.1" />
<line x1="443.00" y1="189.20" x2="455.00" y2="189.20" stroke="#161616" stroke-width="1.6" />
<rect x="446.10" y="189.60" width="5.80" height="5.60" fill="#fff" stroke="#161616" stroke-width="1.0" />
<rect x="447.30" y="195.20" width="3.40" height="14.50" fill="#fff" stroke="#161616" stroke-width="1.1" />
<line x1="624.70" y1="189.20" x2="636.70" y2="189.20" stroke="#161616" stroke-width="1.6" />
<rect x="627.80" y="189.60" width="5.80" height="5.60" fill="#fff" stroke="#161616" stroke-width="1.0" />
<rect x="629.00" y="195.20" width="3.40" height="14.50" fill="#fff" stroke="#161616" stroke-width="1.1" />
<line x1="806.50" y1="189.20" x2="818.50" y2="189.20" stroke="#161616" stroke-width="1.6" />
<rect x="809.60" y="189.60" width="5.80" height="5.60" fill="#fff" stroke="#161616" stroke-width="1.0" />
<rect x="810.80" y="195.20" width="3.40" height="14.50" fill="#fff" stroke="#161616" stroke-width="1.1" />
<line x1="984.30" y1="189.20" x2="996.30" y2="189.20" stroke="#161616" stroke-width="1.6" />
<rect x="987.40" y="189.60" width="5.80" height="5.60" fill="#fff" stroke="#161616" stroke-width="1.0" />
<rect x="988.60" y="195.20" width="3.40" height="14.50" fill="#fff" stroke="#161616" stroke-width="1.1" />
<rect x="867.30" y="169.50" width="58.40" height="8.80" fill="#fff" stroke="#161616" stroke-width="1.2" />
<polyline points="874.00,169.50 896.50,158.60 919.00,169.50" fill="none" stroke="#161616" stroke-width="1.4" />
<line x1="896.50" y1="158.60" x2="896.50" y2="169.50" stroke="#161616" stroke-width="1.2" />
<line x1="893.20" y1="157.40" x2="900.20" y2="157.40" stroke="#161616" stroke-width="1.7" />
<polyline points="893.00,178.80 896.50,188.30 900.00,178.80" fill="none" stroke="#161616" stroke-width="0.9" />
<path d="M896.4 188.6 q-0.3 2.2 1.2 3.3 q1.6 1.3 0.9 3.0 q-0.8 1.6 -3.0 0.9" fill="none" stroke="#222" stroke-width="0.9"/>
<rect x="267.50" y="353.30" width="733.20" height="5.40" fill="url(#hatch)" stroke="#161616" stroke-width="0" />
<line x1="262.00" y1="353.30" x2="1000.70" y2="353.30" stroke="#161616" stroke-width="1.6" />
<line x1="259.00" y1="358.70" x2="1000.70" y2="358.70" stroke="#161616" stroke-width="1.6" />
<rect x="260.00" y="358.70" width="20.80" height="8.90" fill="url(#hatch2)" stroke="none" stroke-width="0" />
<line x1="260.00" y1="358.70" x2="260.00" y2="367.60" stroke="#161616" stroke-width="1.5" />
<line x1="280.80" y1="358.70" x2="280.80" y2="367.60" stroke="#161616" stroke-width="1.5" />
<rect x="620.30" y="358.70" width="20.40" height="8.90" fill="url(#hatch2)" stroke="none" stroke-width="0" />
<line x1="620.30" y1="358.70" x2="620.30" y2="367.60" stroke="#161616" stroke-width="1.5" />
<line x1="640.70" y1="358.70" x2="640.70" y2="367.60" stroke="#161616" stroke-width="1.5" />
<rect x="980.40" y="358.70" width="20.30" height="8.90" fill="url(#hatch2)" stroke="none" stroke-width="0" />
<line x1="980.40" y1="358.70" x2="980.40" y2="367.60" stroke="#161616" stroke-width="1.5" />
<line x1="1000.70" y1="358.70" x2="1000.70" y2="367.60" stroke="#161616" stroke-width="1.5" />
<line x1="259.50" y1="358.70" x2="259.50" y2="367.60" stroke="#161616" stroke-width="2.0" />
<line x1="280.80" y1="367.60" x2="1000.70" y2="367.60" stroke="#aaa" stroke-width="0.8" />
<line x1="281.00" y1="362.50" x2="980.00" y2="362.50" stroke="#efefef" stroke-width="1.0" stroke-dasharray="2 2"/>
<rect x="443.30" y="366.80" width="6.40" height="1.60" fill="#fff" stroke="none" stroke-width="0" />
<polyline points="443.50,367.60 445.70,362.00 447.10,373.00 449.40,367.60" fill="none" stroke="#999" stroke-width="0.8" />
<rect x="808.60" y="366.80" width="6.40" height="1.60" fill="#fff" stroke="none" stroke-width="0" />
<polyline points="808.80,367.60 811.00,362.00 812.40,373.00 814.70,367.60" fill="none" stroke="#999" stroke-width="0.8" />
<line x1="225.40" y1="358.50" x2="259.50" y2="358.50" stroke="#161616" stroke-width="1.4" />
<polygon points="240.20,358.40 240.20,356.80 258.50,355.00 258.50,358.40" fill="#fff" stroke="#555" stroke-width="0.7" />
<line x1="240.50" y1="359.90" x2="258.50" y2="359.90" stroke="#777" stroke-width="1.0" stroke-dasharray="1.5 1"/>
<line x1="240.50" y1="362.60" x2="258.50" y2="362.60" stroke="#ccc" stroke-width="0.9" />
<rect x="258.60" y="353.30" width="4.60" height="5.20" fill="#333" stroke="none" stroke-width="0" />
<line x1="245.00" y1="367.60" x2="259.00" y2="367.60" stroke="#aaa" stroke-width="0.8" />
<polygon points="1000.70,354.00 1046.00,358.20 1046.00,361.80 1000.70,359.00" fill="url(#hatch)" stroke="#161616" stroke-width="1.0" />
<rect x="1001.30" y="363.20" width="44.70" height="2.60" fill="#fff" stroke="#444" stroke-width="0.8" />
<line x1="1000.90" y1="354.00" x2="1000.90" y2="366.00" stroke="#161616" stroke-width="1.6" />
<line x1="1046.00" y1="358.30" x2="1061.30" y2="358.30" stroke="#161616" stroke-width="1.4" />
<line x1="293.30" y1="244.50" x2="293.30" y2="356.50" stroke="#9a9a9a" stroke-width="0.8" />
<line x1="288.90" y1="244.80" x2="297.70" y2="253.60" stroke="#555" stroke-width="0.8" />
<line x1="288.90" y1="280.90" x2="297.70" y2="289.70" stroke="#555" stroke-width="0.8" />
<line x1="288.90" y1="348.90" x2="297.70" y2="357.70" stroke="#555" stroke-width="0.8" />
<line x1="270.00" y1="249.20" x2="297.50" y2="249.20" stroke="#777" stroke-width="0.8" />
<line x1="270.00" y1="285.30" x2="297.50" y2="285.30" stroke="#555" stroke-width="0.8" />
<text transform="translate(291.00,266.70) rotate(-90) scale(0.84,1)" font-size="11.6" fill="#9a9a9a" text-anchor="middle">1200</text>
<text transform="translate(291.00,319.20) rotate(-90) scale(0.84,1)" font-size="11.6" fill="#9a9a9a" text-anchor="middle">2250</text>
<line x1="314.50" y1="172.00" x2="314.50" y2="356.50" stroke="#9a9a9a" stroke-width="0.8" />
<line x1="310.10" y1="171.60" x2="318.90" y2="180.40" stroke="#555" stroke-width="0.8" />
<line x1="310.10" y1="348.90" x2="318.90" y2="357.70" stroke="#555" stroke-width="0.8" />
<text transform="translate(312.00,268.80) rotate(-90) scale(0.84,1)" font-size="11.6" fill="#9a9a9a" text-anchor="middle">5828</text>
<line x1="336.70" y1="144.50" x2="336.70" y2="356.50" stroke="#9a9a9a" stroke-width="0.8" />
<line x1="332.30" y1="144.60" x2="341.10" y2="153.40" stroke="#555" stroke-width="0.8" />
<line x1="332.30" y1="348.90" x2="341.10" y2="357.70" stroke="#555" stroke-width="0.8" />
<text transform="translate(333.60,267.50) rotate(-90) scale(0.84,1)" font-size="11.6" fill="#9a9a9a" text-anchor="middle">6737</text>
<line x1="402.50" y1="184.00" x2="402.50" y2="356.50" stroke="#9a9a9a" stroke-width="0.8" />
<line x1="398.10" y1="183.90" x2="406.90" y2="192.70" stroke="#555" stroke-width="0.8" />
<line x1="398.10" y1="348.90" x2="406.90" y2="357.70" stroke="#555" stroke-width="0.8" />
<text transform="translate(400.00,268.80) rotate(-90) scale(0.84,1)" font-size="11.6" fill="#9a9a9a" text-anchor="middle">5420</text>
<line x1="424.70" y1="184.00" x2="424.70" y2="356.50" stroke="#9a9a9a" stroke-width="0.8" />
<line x1="420.30" y1="183.90" x2="429.10" y2="192.70" stroke="#555" stroke-width="0.8" />
<line x1="420.30" y1="190.90" x2="429.10" y2="199.70" stroke="#555" stroke-width="0.8" />
<line x1="420.30" y1="348.90" x2="429.10" y2="357.70" stroke="#555" stroke-width="0.8" />
<text transform="translate(422.20,269.50) rotate(-90) scale(0.84,1)" font-size="11.6" fill="#9a9a9a" text-anchor="middle">5240</text>
<text transform="translate(422.50,212.50) rotate(-90) scale(0.84,1)" font-size="11.6" fill="#9a9a9a" text-anchor="middle">180</text>
<line x1="421.00" y1="195.30" x2="446.00" y2="195.30" stroke="#9a9a9a" stroke-width="0.7" />
<line x1="475.50" y1="179.00" x2="475.50" y2="356.50" stroke="#9a9a9a" stroke-width="0.8" />
<line x1="471.10" y1="179.20" x2="479.90" y2="188.00" stroke="#555" stroke-width="0.8" />
<line x1="471.10" y1="184.60" x2="479.90" y2="193.40" stroke="#555" stroke-width="0.8" />
<line x1="471.10" y1="190.90" x2="479.90" y2="199.70" stroke="#555" stroke-width="0.8" />
<line x1="471.10" y1="206.80" x2="479.90" y2="215.60" stroke="#555" stroke-width="0.8" />
<line x1="471.10" y1="348.90" x2="479.90" y2="357.70" stroke="#555" stroke-width="0.8" />
<text transform="translate(472.70,225.40) rotate(-90) scale(0.84,1)" font-size="11.6" fill="#9a9a9a" text-anchor="middle">530</text>
<text transform="translate(473.00,281.20) rotate(-90) scale(0.84,1)" font-size="11.6" fill="#9a9a9a" text-anchor="middle">4710</text>
<line x1="452.00" y1="195.30" x2="480.00" y2="195.30" stroke="#9a9a9a" stroke-width="0.7" />
<line x1="452.00" y1="211.20" x2="480.00" y2="211.20" stroke="#666" stroke-width="0.8" />
<polyline points="475.50,189.00 494.20,200.80 494.20,219.20" fill="none" stroke="#9a9a9a" stroke-width="0.7" />
<polyline points="475.50,183.30 511.70,199.20 511.70,220.00" fill="none" stroke="#9a9a9a" stroke-width="0.7" />
<text transform="translate(492.50,209.60) rotate(-90) scale(0.84,1)" font-size="11.6" fill="#9a9a9a" text-anchor="middle">180</text>
<text transform="translate(509.20,209.60) rotate(-90) scale(0.84,1)" font-size="11.6" fill="#9a9a9a" text-anchor="middle">376</text>
<line x1="584.20" y1="184.00" x2="584.20" y2="356.50" stroke="#9a9a9a" stroke-width="0.8" />
<line x1="579.80" y1="183.90" x2="588.60" y2="192.70" stroke="#555" stroke-width="0.8" />
<line x1="579.80" y1="348.90" x2="588.60" y2="357.70" stroke="#555" stroke-width="0.8" />
<text transform="translate(581.70,268.80) rotate(-90) scale(0.84,1)" font-size="11.6" fill="#9a9a9a" text-anchor="middle">5420</text>
<line x1="606.70" y1="184.00" x2="606.70" y2="356.50" stroke="#9a9a9a" stroke-width="0.8" />
<line x1="602.30" y1="183.90" x2="611.10" y2="192.70" stroke="#555" stroke-width="0.8" />
<line x1="602.30" y1="190.90" x2="611.10" y2="199.70" stroke="#555" stroke-width="0.8" />
<line x1="602.30" y1="348.90" x2="611.10" y2="357.70" stroke="#555" stroke-width="0.8" />
<text transform="translate(603.50,269.50) rotate(-90) scale(0.84,1)" font-size="11.6" fill="#9a9a9a" text-anchor="middle">5240</text>
<text transform="translate(603.50,212.50) rotate(-90) scale(0.84,1)" font-size="11.6" fill="#9a9a9a" text-anchor="middle">180</text>
<line x1="575.00" y1="195.30" x2="627.00" y2="195.30" stroke="#9a9a9a" stroke-width="0.7" />
<line x1="656.70" y1="179.00" x2="656.70" y2="356.50" stroke="#9a9a9a" stroke-width="0.8" />
<line x1="652.30" y1="179.20" x2="661.10" y2="188.00" stroke="#555" stroke-width="0.8" />
<line x1="652.30" y1="184.60" x2="661.10" y2="193.40" stroke="#555" stroke-width="0.8" />
<line x1="652.30" y1="190.90" x2="661.10" y2="199.70" stroke="#555" stroke-width="0.8" />
<line x1="652.30" y1="205.10" x2="661.10" y2="213.90" stroke="#555" stroke-width="0.8" />
<line x1="652.30" y1="348.90" x2="661.10" y2="357.70" stroke="#555" stroke-width="0.8" />
<text transform="translate(654.20,223.30) rotate(-90) scale(0.84,1)" font-size="11.6" fill="#9a9a9a" text-anchor="middle">480</text>
<text transform="translate(654.40,280.80) rotate(-90) scale(0.84,1)" font-size="11.6" fill="#9a9a9a" text-anchor="middle">4760</text>
<line x1="634.50" y1="195.30" x2="662.00" y2="195.30" stroke="#9a9a9a" stroke-width="0.7" />
<line x1="634.50" y1="209.50" x2="662.00" y2="209.50" stroke="#666" stroke-width="0.8" />
<polyline points="656.70,189.00 675.80,200.00 675.80,220.00" fill="none" stroke="#9a9a9a" stroke-width="0.7" />
<polyline points="656.70,183.30 693.30,198.00 693.30,220.00" fill="none" stroke="#9a9a9a" stroke-width="0.7" />
<text transform="translate(674.40,210.00) rotate(-90) scale(0.84,1)" font-size="11.6" fill="#9a9a9a" text-anchor="middle">180</text>
<text transform="translate(690.20,209.20) rotate(-90) scale(0.84,1)" font-size="11.6" fill="#9a9a9a" text-anchor="middle">376</text>
<line x1="773.30" y1="157.00" x2="773.30" y2="367.60" stroke="#bbb" stroke-width="1.1" />
<line x1="768.90" y1="157.10" x2="777.70" y2="165.90" stroke="#555" stroke-width="0.8" />
<line x1="768.90" y1="363.20" x2="777.70" y2="372.00" stroke="#555" stroke-width="0.8" />
<text transform="translate(770.20,274.60) rotate(-90) scale(0.84,1)" font-size="11.6" fill="#9a9a9a" text-anchor="middle">6792</text>
<line x1="877.50" y1="192.00" x2="877.50" y2="356.50" stroke="#9a9a9a" stroke-width="0.8" />
<line x1="873.10" y1="191.60" x2="881.90" y2="200.40" stroke="#555" stroke-width="0.8" />
<line x1="873.10" y1="348.90" x2="881.90" y2="357.70" stroke="#555" stroke-width="0.8" />
<text transform="translate(874.80,269.60) rotate(-90) scale(0.84,1)" font-size="11.6" fill="#9a9a9a" text-anchor="middle">≈5200</text>
<line x1="877.50" y1="196.50" x2="893.50" y2="196.50" stroke="#999" stroke-width="0.7" />
<line x1="923.30" y1="122.50" x2="923.30" y2="356.50" stroke="#bbb" stroke-width="1.0" />
<line x1="918.90" y1="122.10" x2="927.70" y2="130.90" stroke="#555" stroke-width="0.8" />
<line x1="918.90" y1="348.90" x2="927.70" y2="357.70" stroke="#555" stroke-width="0.8" />
<text transform="translate(920.60,250.80) rotate(-90) scale(0.84,1)" font-size="11.6" fill="#9a9a9a" text-anchor="middle">7574</text>
<line x1="948.30" y1="147.00" x2="948.30" y2="356.50" stroke="#bbb" stroke-width="1.0" />
<line x1="943.90" y1="147.60" x2="952.70" y2="156.40" stroke="#555" stroke-width="0.8" />
<line x1="943.90" y1="348.90" x2="952.70" y2="357.70" stroke="#555" stroke-width="0.8" />
<text transform="translate(946.20,247.50) rotate(-90) scale(0.84,1)" font-size="11.6" fill="#9a9a9a" text-anchor="middle">6624</text>
<line x1="974.20" y1="212.50" x2="974.20" y2="356.50" stroke="#9a9a9a" stroke-width="0.8" />
<line x1="969.80" y1="212.60" x2="978.60" y2="221.40" stroke="#555" stroke-width="0.8" />
<line x1="969.80" y1="348.90" x2="978.60" y2="357.70" stroke="#555" stroke-width="0.8" />
<text transform="translate(971.80,282.00) rotate(-90) scale(0.84,1)" font-size="11.6" fill="#9a9a9a" text-anchor="middle">4500</text>
<line x1="970.00" y1="217.00" x2="991.00" y2="217.00" stroke="#888" stroke-width="0.7" />
<line x1="260.80" y1="389.50" x2="1000.50" y2="389.50" stroke="#c4c4c4" stroke-width="1.5" />
<line x1="260.80" y1="409.40" x2="1000.50" y2="409.40" stroke="#999" stroke-width="0.9" />
<line x1="262.80" y1="393.90" x2="271.60" y2="385.10" stroke="#555" stroke-width="0.8" />
<line x1="626.10" y1="393.90" x2="634.90" y2="385.10" stroke="#555" stroke-width="0.8" />
<line x1="989.60" y1="393.90" x2="998.40" y2="385.10" stroke="#555" stroke-width="0.8" />
<line x1="262.80" y1="413.80" x2="271.60" y2="405.00" stroke="#555" stroke-width="0.8" />
<line x1="989.60" y1="413.80" x2="998.40" y2="405.00" stroke="#555" stroke-width="0.8" />
<text transform="translate(449.20,386.70) scale(0.84,1)" font-size="11.2" fill="#9a9a9a" text-anchor="middle">12000</text>
<text transform="translate(812.50,386.80) scale(0.84,1)" font-size="11.2" fill="#9a9a9a" text-anchor="middle">12000</text>
<text transform="translate(591.00,406.70) scale(0.84,1)" font-size="11.2" fill="#9a9a9a" text-anchor="middle">24000</text>
<line x1="267.20" y1="367.60" x2="267.20" y2="393.60" stroke="#444" stroke-width="0.9" />
<line x1="267.20" y1="398.30" x2="267.20" y2="419.30" stroke="#444" stroke-width="0.9" />
<circle cx="267.20" cy="433.0" r="13.7" fill="none" stroke="#777" stroke-width="0.8"/>
<text x="267.20" y="437.70" font-size="13" fill="#161616" text-anchor="middle" stroke="#161616" stroke-width="0.45"  style="">Ж</text>
<line x1="630.50" y1="367.60" x2="630.50" y2="393.60" stroke="#444" stroke-width="0.9" />
<line x1="630.50" y1="398.30" x2="630.50" y2="419.30" stroke="#444" stroke-width="0.9" />
<circle cx="630.50" cy="433.0" r="13.7" fill="none" stroke="#777" stroke-width="0.8"/>
<text x="630.50" y="437.70" font-size="13" fill="#161616" text-anchor="middle" stroke="#161616" stroke-width="0.45"  style="">Г</text>
<line x1="994.00" y1="367.60" x2="994.00" y2="393.60" stroke="#444" stroke-width="0.9" />
<line x1="994.00" y1="398.30" x2="994.00" y2="419.30" stroke="#444" stroke-width="0.9" />
<circle cx="994.00" cy="433.0" r="13.7" fill="none" stroke="#777" stroke-width="0.8"/>
<text x="994.00" y="437.70" font-size="13" fill="#161616" text-anchor="middle" stroke="#161616" stroke-width="0.45"  style="">А</text>
<line x1="699.00" y1="110.50" x2="699.00" y2="168.50" stroke="#161616" stroke-width="1.6" />
<line x1="699.00" y1="348.00" x2="699.00" y2="371.00" stroke="#161616" stroke-width="1.6" />
</svg></body></html>
